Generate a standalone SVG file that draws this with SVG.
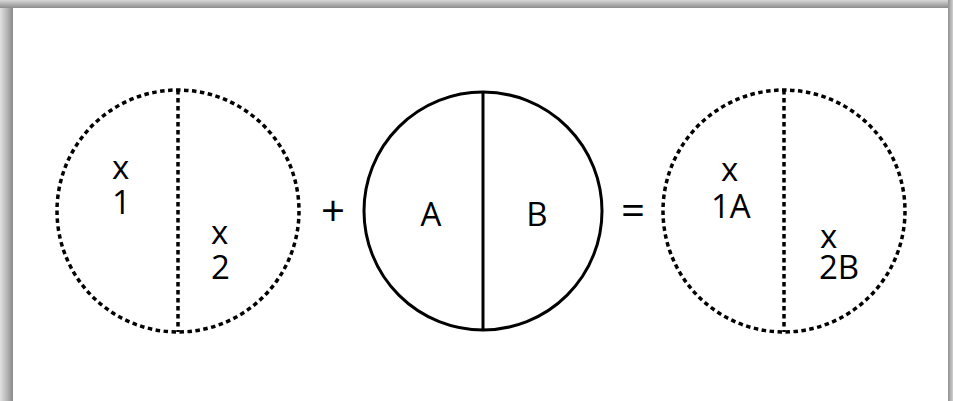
<svg xmlns="http://www.w3.org/2000/svg" width="953" height="401" viewBox="0 0 953 401">
<defs>
<linearGradient id="gl" x1="0" y1="0" x2="1" y2="0"><stop offset="0" stop-color="#e2e2e2"/><stop offset="0.6" stop-color="#b0b0b0"/><stop offset="1" stop-color="#8a8a8a"/></linearGradient>
<linearGradient id="gt" x1="0" y1="0" x2="0" y2="1"><stop offset="0" stop-color="#d8d8d8"/><stop offset="0.6" stop-color="#aaaaaa"/><stop offset="1" stop-color="#8c8c8c"/></linearGradient>
<linearGradient id="gr" x1="0" y1="0" x2="1" y2="0"><stop offset="0" stop-color="#909090"/><stop offset="1" stop-color="#d0d0d0"/></linearGradient>
</defs>
<style>
.dot{fill:none;stroke:#000;stroke-width:3.5;stroke-dasharray:4.5 3.5}
.sol{fill:none;stroke:#000;stroke-width:3}
.t{font-family:"Open Sans","Liberation Sans",sans-serif;font-size:33px;fill:#000}
.op{font-family:"Open Sans","Liberation Sans",sans-serif;font-size:42px;fill:#000}
</style>
<rect x="0" y="0" width="953" height="401" fill="#fff"/>
<rect x="0" y="0" width="13" height="401" fill="url(#gl)"/>
<rect x="0" y="0" width="953" height="8" fill="url(#gt)"/>
<rect x="948" y="0" width="5" height="401" fill="url(#gr)"/>
<g id="circle1">
<circle class="dot" cx="178" cy="211" r="121"/>
<line class="dot" x1="178" y1="90" x2="178" y2="332"/>
<text class="t" x="112" y="179">x</text>
<text class="t" x="112" y="214">1</text>
<text class="t" x="211" y="244">x</text>
<text class="t" x="211" y="279">2</text>
</g>
<g id="plus"><text class="op" x="333" y="226" text-anchor="middle">+</text></g>
<g id="circle2">
<circle class="sol" cx="483" cy="211" r="119"/>
<line class="sol" x1="483" y1="92" x2="483" y2="330"/>
<text class="t" x="431" y="226" text-anchor="middle">A</text>
<text class="t" x="537" y="226" text-anchor="middle">B</text>
</g>
<g id="equals"><text class="op" x="633" y="225" text-anchor="middle">=</text></g>
<g id="circle3">
<circle class="dot" cx="784" cy="211" r="121"/>
<line class="dot" x1="784" y1="90" x2="784" y2="332"/>
<text class="t" x="721" y="181">x</text>
<text class="t" x="711" y="218">1A</text>
<text class="t" x="820" y="248">x</text>
<text class="t" x="819" y="279">2B</text>
</g>
<g id="connectors"></g>
</svg>
